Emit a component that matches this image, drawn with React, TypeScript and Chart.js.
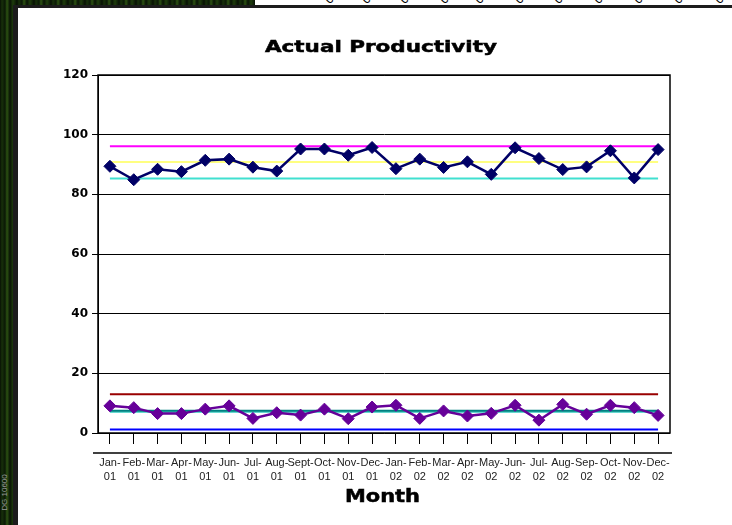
import React, { useEffect, useRef } from "react";
import { Chart, registerables } from "chart.js";

Chart.register(...registerables);

const categories: string[][] = [
  ["Jan-", "01"], ["Feb-", "01"], ["Mar-", "01"], ["Apr-", "01"], ["May-", "01"], ["Jun-", "01"],
  ["Jul-", "01"], ["Aug-", "01"], ["Sept-", "01"], ["Oct-", "01"], ["Nov-", "01"], ["Dec-", "01"],
  ["Jan-", "02"], ["Feb-", "02"], ["Mar-", "02"], ["Apr-", "02"], ["May-", "02"], ["Jun-", "02"],
  ["Jul-", "02"], ["Aug-", "02"], ["Sep-", "02"], ["Oct-", "02"], ["Nov-", "02"], ["Dec-", "02"],
];

const productivity = [
  89.4, 84.9, 88.4, 87.6, 91.4, 91.8, 89.1, 87.8, 95.2, 95.2, 93.1, 95.7,
  88.6, 91.8, 89.0, 90.9, 86.7, 95.6, 92.0, 88.3, 89.2, 94.6, 85.5, 95.0,
];

const lowerSeries = [
  9.1, 8.5, 6.5, 6.5, 8.0, 9.1, 4.9, 6.8, 6.0, 8.0, 4.8, 8.7,
  9.3, 4.9, 7.4, 5.7, 6.6, 9.3, 4.3, 9.6, 6.3, 9.3, 8.5, 5.9,
];

// Control limit levels
const upperUCL = 96.1;
const upperMean = 90.8;
const upperLCL = 85.3;
const lowerUCL = 13.0;
const lowerMeanA = 7.0;
const lowerMeanB = 7.5;
const lowerLCL = 1.2;

const yTicks = [0, 20, 40, 60, 80, 100, 120];

const TITLE = "Actual Productivity";
const X_TITLE = "Month";

function drawStretched(
  ctx: CanvasRenderingContext2D,
  text: string,
  cx: number,
  baseline: number,
  font: string,
  targetWidth: number
) {
  ctx.save();
  ctx.font = font;
  ctx.fillStyle = "#000";
  ctx.strokeStyle = "#000";
  ctx.lineWidth = 0.5;
  ctx.textAlign = "center";
  ctx.textBaseline = "alphabetic";
  const w = ctx.measureText(text).width;
  const sx = w > 0 ? targetWidth / w : 1;
  ctx.translate(cx, baseline);
  ctx.scale(sx, 1);
  ctx.fillText(text, 0, 0);
  ctx.strokeText(text, 0, 0);
  ctx.restore();
}

const decorPlugin = {
  id: "decor",
  afterDraw(chart: any) {
    const { ctx, chartArea: a } = chart;
    ctx.save();
    ctx.strokeStyle = "#000";
    ctx.lineWidth = 1.5;
    ctx.strokeRect(a.left, a.top, a.right - a.left, a.bottom - a.top);
    ctx.beginPath();
    ctx.moveTo(a.left - 5, a.bottom + 20);
    ctx.lineTo(a.right + 2, a.bottom + 20);
    ctx.stroke();
    ctx.restore();
    const mid = (a.left + a.right) / 2;
    drawStretched(ctx, TITLE, mid - 3, 43.5, "bold 16px 'DejaVu Sans'", 232);
    drawStretched(ctx, X_TITLE, mid - 1.5, 493.5, "bold 17px 'DejaVu Sans'", 75);
  },
};

function flat(v: number) {
  return categories.map(() => v);
}

function limitLine(label: string, v: number, color: string, width = 2) {
  return {
    label,
    data: flat(v),
    borderColor: color,
    backgroundColor: color,
    borderWidth: width,
    pointRadius: 0,
    pointHoverRadius: 0,
    fill: false,
    tension: 0,
  };
}

function ChartBox() {
  const ref = useRef<HTMLCanvasElement | null>(null);
  useEffect(() => {
    if (!ref.current) return;
    const chart = new Chart(ref.current, {
      type: "line",
      data: {
        labels: categories,
        datasets: [
          {
            label: "Productivity",
            data: productivity,
            borderColor: "#000066",
            backgroundColor: "#000066",
            borderWidth: 2.5,
            pointStyle: "rectRot",
            pointRadius: 6,
            pointBorderWidth: 1,
            tension: 0,
            fill: false,
          },
          {
            label: "Lower",
            data: lowerSeries,
            borderColor: "#660099",
            backgroundColor: "#660099",
            borderWidth: 2.5,
            pointStyle: "rectRot",
            pointRadius: 6,
            pointBorderWidth: 1,
            tension: 0,
            fill: false,
          },
          limitLine("UCL", upperUCL, "#ff00ff"),
          limitLine("Mean", upperMean, "#ffff80"),
          limitLine("LCL", upperLCL, "#40e0d0"),
          limitLine("UCL2", lowerUCL, "#990000"),
          limitLine("Mean2B", lowerMeanB, "#008080"),
          limitLine("Mean2A", lowerMeanA, "#66d9d0"),
          limitLine("LCL2", lowerLCL, "#0000ff"),
        ],
      } as any,
      options: {
        animation: false,
        responsive: false,
        maintainAspectRatio: false,
        layout: { padding: { top: 67, right: 62, bottom: 0, left: 0 } },
        plugins: {
          legend: { display: false },
          tooltip: { enabled: false },
          title: { display: false },
        },
        scales: {
          x: {
            type: "category",
            offset: true,
            afterFit: (s: any) => {
              s.height = 92;
            },
            grid: {
              offset: false,
              drawOnChartArea: false,
              drawTicks: true,
              tickLength: 11,
              color: "#000",
              lineWidth: 1,
            },
            border: { display: false },
            ticks: {
              autoSkip: false,
              maxRotation: 0,
              minRotation: 0,
              padding: 12,
              color: "#222",
              font: { family: "'Liberation Sans'", size: 11, lineHeight: 1.25 },
            },
          },
          y: {
            min: 0,
            max: 120,
            afterFit: (s: any) => {
              s.width = 80;
            },
            afterBuildTicks: (s: any) => {
              s.ticks = yTicks.map((v) => ({ value: v }));
            },
            grid: {
              color: "#000",
              lineWidth: 1,
              tickLength: 6,
              drawTicks: true,
            },
            border: { display: true, color: "#000", width: 1 },
            ticks: {
              padding: 4,
              color: "#000",
              font: { family: "'DejaVu Sans'", size: 12, weight: "bold" },
            },
          },
        },
      } as any,
      plugins: [decorPlugin],
    });
    return () => chart.destroy();
  }, []);
  return <canvas ref={ref} width={714} height={517} style={{ display: "block", width: 714, height: 517 }} />;
}

const topMarks = [333, 370, 408, 448, 483, 523, 562, 602, 642, 682, 723];

export default function App() {
  return (
    <div
      style={{
        position: "fixed",
        left: 0,
        top: 0,
        width: 732,
        height: 525,
        overflow: "hidden",
        background:
          "repeating-linear-gradient(90deg, #071004 0px, #17300a 2px, #0a1806 5px, #2c5212 7px, #081205 10px, #1e3d0c 13px, #071004 17px)",
      }}
    >
      <div style={{ position: "absolute", left: 255, top: 0, width: 477, height: 5, background: "#fff", overflow: "hidden" }}>
        {topMarks.map((x, i) => (
          <span
            key={i}
            style={{
              position: "absolute",
              left: x - 255 - 8,
              top: -9,
              fontFamily: "'Liberation Sans'",
              fontSize: 12,
              lineHeight: "12px",
              color: "#000",
              transform: "rotate(-45deg)",
              whiteSpace: "nowrap",
            }}
          >
            {i % 2 === 0 ? "01" : "02"}
          </span>
        ))}
      </div>
      <div style={{ position: "absolute", left: 13, top: 5, width: 719, height: 520, background: "#1c1c1c" }} />
      <div style={{ position: "absolute", left: 18, top: 8, width: 714, height: 517, background: "#fff" }}>
        <ChartBox />
      </div>
      <div
        style={{
          position: "absolute",
          left: -14,
          top: 488,
          fontFamily: "'Liberation Sans'",
          fontSize: 8,
          color: "#9a9a9a",
          transform: "rotate(-90deg)",
          whiteSpace: "nowrap",
        }}
      >
        DG 10600
      </div>
    </div>
  );
}
